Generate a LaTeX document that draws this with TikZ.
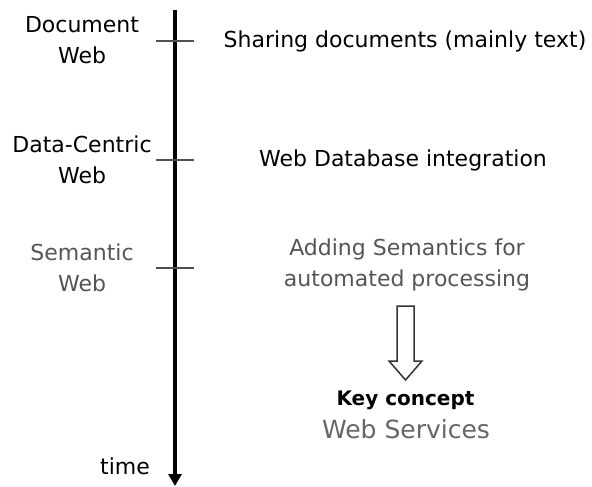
\documentclass[tikz,border=0pt]{standalone}
\usepackage{fontspec}
\setmainfont{DejaVu Sans}
\usetikzlibrary{arrows.meta}
\definecolor{semgray}{HTML}{555555}
\definecolor{wsgray}{HTML}{666666}
\definecolor{tickgray}{HTML}{505050}
\begin{document}
\begin{tikzpicture}[x=1pt,y=-1pt,
  lbl/.style={font=\fontsize{22}{30.5}\selectfont, align=center, inner sep=0pt},
  tickline/.style={draw=tickgray, line width=1.3pt},
  axisline/.style={line width=4pt, -{Triangle[length=12pt,width=13pt]}},
  hollow/.style={draw=black!80, line width=1.5pt, fill=white, line join=miter}]
\useasboundingbox (0,0) rectangle (592,487);
% time axis
\coordinate (top) at (175,10);
\coordinate (bot) at (175,486);
\draw[axisline] (top) -- (bot);
% ticks
\coordinate (t1a) at (156,41);  \coordinate (t1b) at (194,41);
\coordinate (t2a) at (156,160); \coordinate (t2b) at (194,160);
\coordinate (t3a) at (156,268); \coordinate (t3b) at (194,268);
\draw[tickline] (t1a) -- (t1b);
\draw[tickline] (t2a) -- (t2b);
\draw[tickline] (t3a) -- (t3b);
% left labels
\node[lbl] (docweb) at (82,40) {Document\\Web};
\node[lbl] (dataweb) at (82,160) {Data-Centric\\Web};
\node[lbl, text=semgray] (semweb) at (82,268) {Semantic\\Web};
% right texts
\node[lbl] (sharing) at (405,41) {Sharing documents (mainly text)};
\node[lbl] (webdb) at (403,160) {Web Database integration};
\node[lbl, text=semgray] (adding) at (407,265) {Adding Semantics for\\automated processing};
% hollow arrow
\draw[hollow] (397,306) -- (414,306) -- (414,361) -- (422,361) -- (405.5,380)
  -- (389,361) -- (397,361) -- cycle;
% key concept
\node[font=\fontsize{20}{24}\selectfont\bfseries, inner sep=0pt] (key) at (405.5,400) {Key concept};
\node[font=\fontsize{25}{30}\selectfont, text=wsgray, inner sep=0pt] (ws) at (406,429) {Web Services};
% time
\node[lbl] (time) at (125,466) {time};
\end{tikzpicture}
\end{document}
